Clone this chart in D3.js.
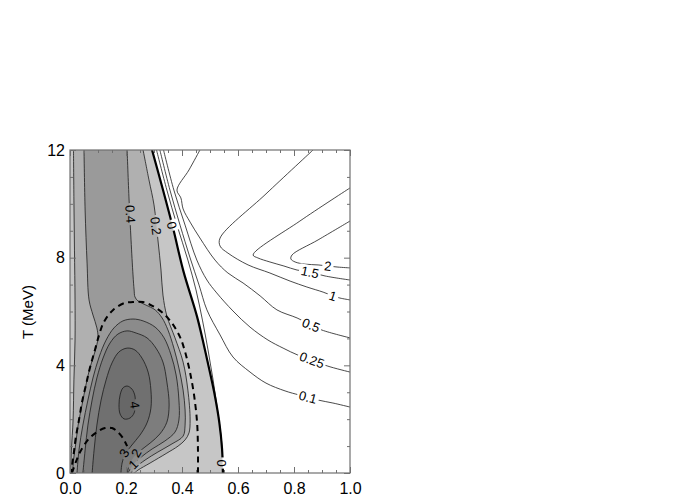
<!DOCTYPE html>
<html><head><meta charset="utf-8">
<script src="https://cdn.jsdelivr.net/npm/d3@7"></script>
<style>body{margin:0;background:#fff}svg{display:block}</style>
</head><body>
<svg id="c" width="700" height="500"></svg>
<script>
// ---------- data (x, T in MeV) ----------
const xTicks = [0, 0.2, 0.4, 0.6, 0.8, 1.0];
const xTickLabels = ["0.0", "0.2", "0.4", "0.6", "0.8", "1.0"];
const yTicks = [0, 4, 8, 12];
const yTickLabels = ["0", "4", "8", "12"];
const yTitle = "T (MeV)";

// shaded field: level 0 (thick)
const zeroLine = [[0.293,12],[0.33,10.6],[0.368,9.1],[0.405,7.5],[0.454,5.8],[0.49,4.2],[0.515,3.0],[0.533,1.9],[0.543,0.9],[0.546,0]];
// level 0.2 (two branches)
const lev02Left = [[0.0125,12],[0.014,10.14],[0.016,8.28],[0.018,6.43],[0.018,4.94],[0.014,3.46],[0.011,1.97],[0.005,0.85],[0.002,0]];
const lev02Right = [[0.261,12],[0.282,10.89],[0.3,9.96],[0.314,8.66],[0.325,7.54],[0.332,6.61],[0.346,5.83],[0.375,5.02],[0.404,4.12],[0.421,3.08],[0.429,1.97],[0.425,1.49],[0.411,1.23],[0.386,1.0],[0.346,0.74],[0.286,0.37],[0.243,0.11],[0.229,0]];
// level 0.4 (two branches)
const lev04Left = [[0.05,12],[0.054,9.77],[0.061,7.8],[0.068,6.43],[0.082,5.87],[0.096,5.39],[0.1,5.02],[0.089,4.5],[0.071,3.9],[0.057,3.27],[0.043,2.53],[0.029,1.78],[0.02,1.04],[0.0125,0.48],[0.009,0]];
const lev04Right = [[0.204,12],[0.211,10.14],[0.218,8.66],[0.225,7.36],[0.229,6.8],[0.232,6.54],[0.243,6.39],[0.271,6.24],[0.304,6.06],[0.329,5.76],[0.35,5.31],[0.371,4.64],[0.389,3.9],[0.404,3.08],[0.411,2.34],[0.411,1.78],[0.404,1.37],[0.364,1.08],[0.314,0.78],[0.268,0.48],[0.236,0.22],[0.218,0]];
// inner bubble levels 1, 2, 3 (open at T = 0) and 4 (closed)
const lev1 = [[0.025,0],[0.032,0.85],[0.046,1.78],[0.064,2.71],[0.082,3.53],[0.104,4.31],[0.129,4.94],[0.157,5.39],[0.189,5.65],[0.225,5.72],[0.261,5.65],[0.304,5.42],[0.336,5.02],[0.361,4.38],[0.379,3.64],[0.389,2.71],[0.389,1.97],[0.375,1.52],[0.339,1.19],[0.293,0.89],[0.254,0.59],[0.225,0.3],[0.207,0]];
const lev2 = [[0.046,0],[0.054,0.85],[0.064,1.78],[0.079,2.71],[0.096,3.53],[0.118,4.27],[0.143,4.83],[0.171,5.16],[0.204,5.28],[0.236,5.2],[0.275,5.02],[0.307,4.64],[0.332,4.12],[0.346,3.38],[0.354,2.53],[0.346,1.89],[0.321,1.45],[0.286,1.11],[0.25,0.82],[0.225,0.56],[0.211,0.26],[0.204,0]];
const lev3 = [[0.079,0],[0.086,0.85],[0.096,1.78],[0.111,2.71],[0.129,3.46],[0.15,4.09],[0.175,4.5],[0.204,4.64],[0.232,4.57],[0.257,4.27],[0.279,3.75],[0.289,3.08],[0.289,2.41],[0.275,1.86],[0.25,1.41],[0.218,1.0],[0.196,0.67],[0.186,0.37],[0.182,0]];
const lev4 = [[0.204,3.23],[0.221,3.12],[0.232,2.86],[0.232,2.53],[0.229,2.23],[0.214,2.04],[0.193,2.01],[0.179,2.19],[0.175,2.53],[0.179,2.9],[0.189,3.16]];
// dashed curves
const dashedOuter = [[0.457,0],[0.457,0.85],[0.454,1.86],[0.443,2.9],[0.429,3.72],[0.411,4.5],[0.393,5.05],[0.364,5.57],[0.332,5.94],[0.296,6.2],[0.261,6.35],[0.225,6.35],[0.196,6.32],[0.154,6.06],[0.121,5.61],[0.104,5.13],[0.089,4.57],[0.071,3.9],[0.057,3.27],[0.043,2.64],[0.032,1.97],[0.021,1.34],[0.014,0.78],[0.007,0.26],[0.004,0]];
const dashedInner = [[0.007,0],[0.021,0.41],[0.036,0.78],[0.064,1.23],[0.096,1.52],[0.125,1.67],[0.15,1.67],[0.171,1.52],[0.189,1.3],[0.204,1.0]];
// second field (white region)
const w005 = [[0.309,12],[0.346,10.51],[0.382,9.21],[0.421,7.91],[0.45,6.8],[0.473,5.68],[0.493,4.57],[0.511,3.46],[0.527,2.34],[0.541,1.23],[0.548,0]];
const w01 = [[0.321,12],[0.357,10.51],[0.393,9.21],[0.429,7.99],[0.461,6.98],[0.489,6.06],[0.536,5.13],[0.582,4.31],[0.643,3.75],[0.7,3.34],[0.768,3.05],[0.818,2.9],[0.85,2.82],[0.886,2.71],[0.939,2.6],[1,2.45]];
const w025 = [[0.334,12],[0.371,10.51],[0.411,9.21],[0.453,7.91],[0.489,7.17],[0.524,6.69],[0.582,6.02],[0.643,5.42],[0.707,4.94],[0.761,4.64],[0.814,4.38],[0.864,4.2],[0.918,3.98],[1,3.75]];
const w05 = [[0.464,12],[0.425,11.26],[0.382,10.51],[0.396,10.22],[0.404,9.81],[0.429,9.32],[0.464,8.73],[0.518,7.91],[0.564,7.43],[0.618,7.06],[0.679,6.58],[0.739,6.06],[0.811,5.76],[0.861,5.5],[0.9,5.31],[1,5.02]];
const w1 = [[0.868,12],[0.7,10.37],[0.536,8.73],[0.536,8.43],[0.564,8.17],[0.636,7.73],[0.714,7.43],[0.786,7.13],[0.846,6.91],[0.904,6.72],[0.939,6.58],[0.964,6.5],[1,6.43]];
const w15 = [[1,10.59],[0.821,9.36],[0.654,8.1],[0.671,7.99],[0.714,7.84],[0.764,7.69],[0.811,7.54],[0.857,7.47],[0.911,7.32],[1,7.17]];
const w2 = [[1,9.36],[0.886,8.66],[0.793,8.1],[0.789,7.95],[0.804,7.84],[0.839,7.76],[0.886,7.73],[0.921,7.69],[0.957,7.65],[1,7.62]];

// contour labels: text, x, T, angle
const labelText = ["0.4","0.2","0","0","4","3","2","1","0.1","0.25","0.5","1","1.5","2"];
const labelX    = [0.216,0.307,0.364,0.543,0.232,0.193,0.236,0.226,0.85,0.864,0.861,0.939,0.857,0.921];
const labelT    = [9.62,9.18,9.2,0.37,2.53,0.74,0.74,0.32,2.82,4.2,5.5,6.58,7.47,7.69];
const labelAng  = [87,83,75,90,82,-59,-59,-45,15,20,22,18,12,6];

// ---------- drawing ----------
const svg = d3.select("#c");
const L = 70, R = 350, T0 = 150, B = 473;
const FONT = "'Liberation Sans', Arial, Helvetica, sans-serif";
const x = d3.scaleLinear().domain([0, 1]).range([L, R]);
const y = d3.scaleLinear().domain([0, 12]).range([B, T0]);
const curve = d3.line().x(d => x(d[0])).y(d => y(d[1])).curve(d3.curveCatmullRom.alpha(0.5));
const curveClosed = d3.line().x(d => x(d[0])).y(d => y(d[1])).curve(d3.curveCatmullRomClosed.alpha(0.5));
const join = (a, b) => curve(a) + curve(b.slice().reverse()).replace(/^M/, "L") + "Z";

const defs = svg.append("defs");
defs.append("clipPath").attr("id", "plot").append("rect")
  .attr("x", L).attr("y", T0).attr("width", R - L).attr("height", B - T0);
const mask = defs.append("mask").attr("id", "lblmask").attr("maskUnits", "userSpaceOnUse")
  .attr("x", 0).attr("y", 0).attr("width", 700).attr("height", 500);
mask.append("rect").attr("width", 700).attr("height", 500).attr("fill", "#fff");

const plot = svg.append("g").attr("clip-path", "url(#plot)");
// fills
plot.append("path").attr("fill", "#c6c6c6")
  .attr("d", curve(zeroLine) + `L${x(-0.05)},${y(0)}L${x(-0.05)},${y(12)}Z`);
plot.append("path").attr("fill", "#b0b0b0").attr("d", join(lev02Left, lev02Right));
plot.append("path").attr("fill", "#9a9a9a").attr("d", join(lev04Left, lev04Right));
plot.append("path").attr("fill", "#8b8b8b").attr("d", curve(lev1) + "Z");
plot.append("path").attr("fill", "#7d7d7d").attr("d", curve(lev2) + "Z");
plot.append("path").attr("fill", "#707070").attr("d", curve(lev3) + "Z");
plot.append("path").attr("fill", "#676767").attr("d", curveClosed(lev4));

// lines (masked at labels)
const lines = plot.append("g").attr("mask", "url(#lblmask)").attr("fill", "none");
const thin = [lev02Left, lev02Right, lev04Left, lev04Right, lev1, lev2, lev3, w005, w01, w025, w05, w1, w15, w2];
thin.forEach(p => lines.append("path").attr("d", curve(p)).attr("stroke", "#1c1c1c").attr("stroke-width", 0.8));
lines.append("path").attr("d", curveClosed(lev4)).attr("stroke", "#1c1c1c").attr("stroke-width", 0.8);
lines.append("path").attr("d", curve(zeroLine)).attr("stroke", "#000").attr("stroke-width", 2.2);
[dashedOuter, dashedInner].forEach(p => lines.append("path").attr("d", curve(p))
  .attr("stroke", "#000").attr("stroke-width", 2).attr("stroke-dasharray", "6,4.5"));

// labels
const lblG = svg.append("g").attr("clip-path", "url(#plot)")
  .attr("font-family", FONT).attr("font-size", 13);
labelText.forEach((t, i) => {
  const px = x(labelX[i]), py = y(labelT[i]);
  const tr = `translate(${px},${py}) rotate(${labelAng[i]})`;
  const tx = lblG.append("text").attr("transform", tr).attr("text-anchor", "middle")
    .attr("dy", "0.36em").attr("fill", "#000").text(t);
  const w = tx.node().getComputedTextLength();
  mask.append("rect").attr("transform", tr).attr("x", -w / 2 - 2).attr("y", -6.5)
    .attr("width", w + 4).attr("height", 13).attr("fill", "#000");
});

// frame and axes
const axCol = "#707070";
const minorX = d3.range(0, 1.0001, 0.05).filter(v => !xTicks.some(t => Math.abs(t - v) < 1e-6));
const minorY = d3.range(0, 12.001, 1).filter(v => !yTicks.includes(v));
function styleAxis(g) {
  g.select(".domain").remove();
  g.selectAll("line").attr("stroke", axCol).attr("stroke-width", 1);
  g.selectAll("text").attr("font-family", FONT).attr("font-size", 16).attr("fill", "#000");
}
svg.append("g").attr("transform", `translate(0,${B})`)
  .call(d3.axisBottom(x).tickValues(xTicks).tickFormat((d, i) => xTickLabels[i]).tickSize(-6).tickPadding(10)).call(styleAxis);
svg.append("g").attr("transform", `translate(0,${B})`)
  .call(d3.axisBottom(x).tickValues(minorX).tickFormat("").tickSize(-3)).call(styleAxis);
svg.append("g").attr("transform", `translate(0,${T0})`)
  .call(d3.axisTop(x).tickValues(xTicks).tickFormat("").tickSize(-6)).call(styleAxis);
svg.append("g").attr("transform", `translate(0,${T0})`)
  .call(d3.axisTop(x).tickValues(minorX).tickFormat("").tickSize(-3)).call(styleAxis);
svg.append("g").attr("transform", `translate(${L},0)`)
  .call(d3.axisLeft(y).tickValues(yTicks).tickFormat((d, i) => yTickLabels[i]).tickSize(-6).tickPadding(5)).call(styleAxis);
svg.append("g").attr("transform", `translate(${L},0)`)
  .call(d3.axisLeft(y).tickValues(minorY).tickFormat("").tickSize(-3)).call(styleAxis);
svg.append("g").attr("transform", `translate(${R},0)`)
  .call(d3.axisRight(y).tickValues(yTicks).tickFormat("").tickSize(-6)).call(styleAxis);
svg.append("g").attr("transform", `translate(${R},0)`)
  .call(d3.axisRight(y).tickValues(minorY).tickFormat("").tickSize(-3)).call(styleAxis);
svg.append("rect").attr("x", L).attr("y", T0).attr("width", R - L).attr("height", B - T0)
  .attr("fill", "none").attr("stroke", axCol).attr("stroke-width", 1.2);

svg.append("text").attr("transform", "translate(28,312) rotate(-90)")
  .attr("text-anchor", "middle").attr("dy", "0.35em")
  .attr("font-family", FONT).attr("font-size", 15)
  .text(yTitle);
</script>
</body></html>
